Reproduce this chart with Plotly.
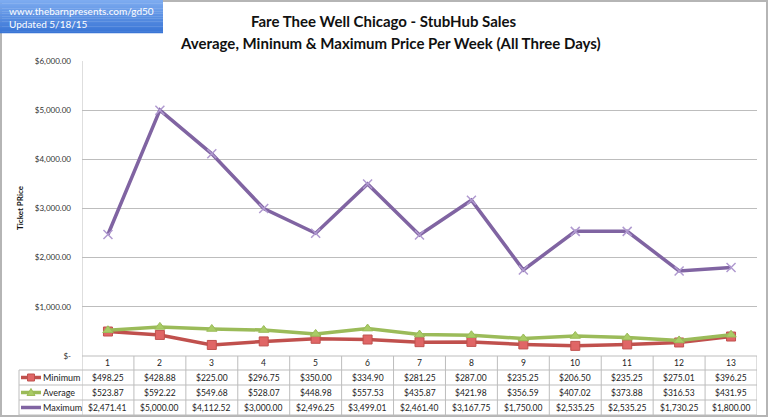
import plotly.graph_objects as go

weeks = list(range(1, 14))
minimum = [498.25, 428.88, 225.00, 296.75, 350.00, 334.90, 281.25, 287.00, 235.25, 206.50, 235.25, 275.01, 396.25]
average = [523.87, 592.22, 549.68, 528.07, 448.98, 557.53, 435.87, 421.98, 356.59, 407.02, 373.88, 316.53, 431.95]
maximum = [2471.41, 5000.00, 4112.52, 3000.00, 2496.25, 3499.01, 2461.40, 3167.75, 1750.00, 2535.25, 2535.25, 1730.25, 1800.00]
series_names = ["Minimum", "Average", "Maximum"]
y_tickvals = [0, 1000, 2000, 3000, 4000, 5000, 6000]
y_ticktext = ["$-", "$1,000.00", "$2,000.00", "$3,000.00", "$4,000.00", "$5,000.00", "$6,000.00"]

W, H = 770, 419
L, R, T, B = 82, 13, 61, 63
PW, PH = W - L - R, H - T - B
def px(x):
    return (x - L) / PW
def py(y):
    return (H - B - y) / PH

FONT = "Lato"
colors = {"Minimum": "#c0504d", "Average": "#9bbb59", "Maximum": "#8064a2"}
mfill = {"Minimum": "#e06666", "Average": "#a9cc66", "Maximum": "#8064a2"}
symbols = {"Minimum": "square", "Average": "triangle-up", "Maximum": "x-thin"}
vals = {"Minimum": minimum, "Average": average, "Maximum": maximum}

fig = go.Figure()
for name in series_names:
    mk = dict(symbol=symbols[name], size=9, color=mfill[name],
              line=dict(color=colors[name], width=1))
    if name == "Maximum":
        mk = dict(symbol="x-thin", size=9, line=dict(color="#b09ad0", width=1.5))
    fig.add_trace(go.Scatter(x=weeks, y=vals[name], mode="lines+markers", name=name,
                             line=dict(color=colors[name], width=3.5), marker=mk,
                             showlegend=False))

shapes = []
GRID = "#bdbdbd"
# outer border
shapes.append(dict(type="rect", xref="paper", yref="paper", x0=px(1), x1=px(767), y0=py(416), y1=py(1),
                   line=dict(color="#b5b5b5", width=2), layer="below"))
# blue box gradient
n = 20
top = (0x7d, 0xab, 0xf0)
bot = (0x3a, 0x76, 0xd6)
for i in range(n):
    t = i / (n - 1)
    c = tuple(int(top[k] + (bot[k] - top[k]) * t) for k in range(3))
    y0 = 0 + 33 * i / n
    y1 = 0 + 33 * (i + 1) / n + 0.3
    shapes.append(dict(type="rect", xref="paper", yref="paper", x0=px(0), x1=px(163),
                       y0=py(y1), y1=py(y0), line=dict(width=0),
                       fillcolor="rgb(%d,%d,%d)" % c, layer="above"))
# table lines
row_lines = [370, 385, 400, 415]
for yy in row_lines:
    shapes.append(dict(type="line", xref="paper", yref="paper", x0=px(19), x1=px(757),
                       y0=py(yy), y1=py(yy), line=dict(color=GRID, width=1)))
shapes.append(dict(type="line", xref="paper", yref="paper", x0=px(82), x1=px(757),
                   y0=py(356), y1=py(356), line=dict(color=GRID, width=1)))
for k in range(14):
    shapes.append(dict(type="line", xref="x", yref="paper", x0=k + 0.5, x1=k + 0.5,
                       y0=py(415), y1=py(61) if k == 0 else py(356), line=dict(color=GRID, width=1)))
shapes.append(dict(type="line", xref="paper", yref="paper", x0=px(19), x1=px(19),
                   y0=py(415), y1=py(370), line=dict(color=GRID, width=1)))

annotations = []
# legend samples in table
row_centers = [377.5, 392.5, 407.5]
for name, yc in zip(series_names, row_centers):
    shapes.append(dict(type="line", xref="paper", yref="paper", x0=px(21), x1=px(41),
                       y0=py(yc), y1=py(yc), line=dict(color=colors[name], width=3.5)))
    if name == "Minimum":
        shapes.append(dict(type="rect", xref="paper", yref="paper", x0=px(27.5), x1=px(34.5),
                           y0=py(yc + 3.5), y1=py(yc - 3.5), fillcolor=mfill[name],
                           line=dict(color=colors[name], width=1)))
    elif name == "Average":
        shapes.append(dict(type="path", xref="paper", yref="paper",
                           path="M %f,%f L %f,%f L %f,%f Z" % (px(27), py(yc + 3), px(35), py(yc + 3), px(31), py(yc - 4)),
                           fillcolor=mfill[name], line=dict(color=colors[name], width=1)))
    annotations.append(dict(x=px(41), y=py(yc), xref="paper", yref="paper", text=name,
                            showarrow=False, xanchor="left", yanchor="middle",
                            font=dict(family=FONT, size=9, color="#222")))

def money(v):
    return "$" + format(v, ",.2f")

TF = 8.5
for i, w in enumerate(weeks):
    annotations.append(dict(x=w, y=py(363), xref="x", yref="paper", text=str(w), showarrow=False,
                            xanchor="center", yanchor="middle", font=dict(family=FONT, size=TF, color="#222")))
    for name, yc in zip(series_names, row_centers):
        annotations.append(dict(x=w, y=py(yc), xref="x", yref="paper", text=money(vals[name][i]),
                                showarrow=False, xanchor="center", yanchor="middle",
                                font=dict(family=FONT, size=TF, color="#222")))

# titles
annotations.append(dict(x=px(384), y=py(21), xref="paper", yref="paper",
                        text="<b>Fare Thee Well Chicago - StubHub Sales</b>", showarrow=False,
                        xanchor="center", yanchor="middle", font=dict(family=FONT, size=15, color="#111")))
annotations.append(dict(x=px(390), y=py(43), xref="paper", yref="paper",
                        text="<b>Average, Mininum &amp; Maximum Price Per Week (All Three Days)</b>", showarrow=False,
                        xanchor="center", yanchor="middle", font=dict(family=FONT, size=15, color="#111")))
annotations.append(dict(x=px(20), y=py(208), xref="paper", yref="paper", text="<b>Ticket PRice</b>",
                        showarrow=False, textangle=-90, xanchor="center", yanchor="middle",
                        font=dict(family=FONT, size=8, color="#111")))
annotations.append(dict(x=px(7), y=py(11), xref="paper", yref="paper", text="www.thebarnpresents.com/gd50",
                        showarrow=False, xanchor="left", yanchor="middle",
                        font=dict(family=FONT, size=10, color="#ffffff")))
annotations.append(dict(x=px(7), y=py(24), xref="paper", yref="paper", text="Updated 5/18/15",
                        showarrow=False, xanchor="left", yanchor="middle",
                        font=dict(family=FONT, size=10, color="#ffffff")))

fig.update_layout(
    width=W, height=H, margin=dict(l=L, r=R, t=T, b=B),
    paper_bgcolor="white", plot_bgcolor="white",
    shapes=shapes, annotations=annotations,
    xaxis=dict(range=[0.5, 13.5], showticklabels=False, showgrid=False, zeroline=False, ticks=""),
    yaxis=dict(range=[0, 6000], tickvals=y_tickvals, ticktext=y_ticktext, showgrid=True,
               gridcolor=GRID, gridwidth=1, zeroline=False, showline=False, ticks="",
               ticklabelstandoff=10,
               tickfont=dict(family=FONT, size=8, color="#333")),
)
fig.write_html("out.html", config={"displayModeBar": False},
               post_script="document.body.style.margin='0px';document.body.style.overflow='hidden';")
